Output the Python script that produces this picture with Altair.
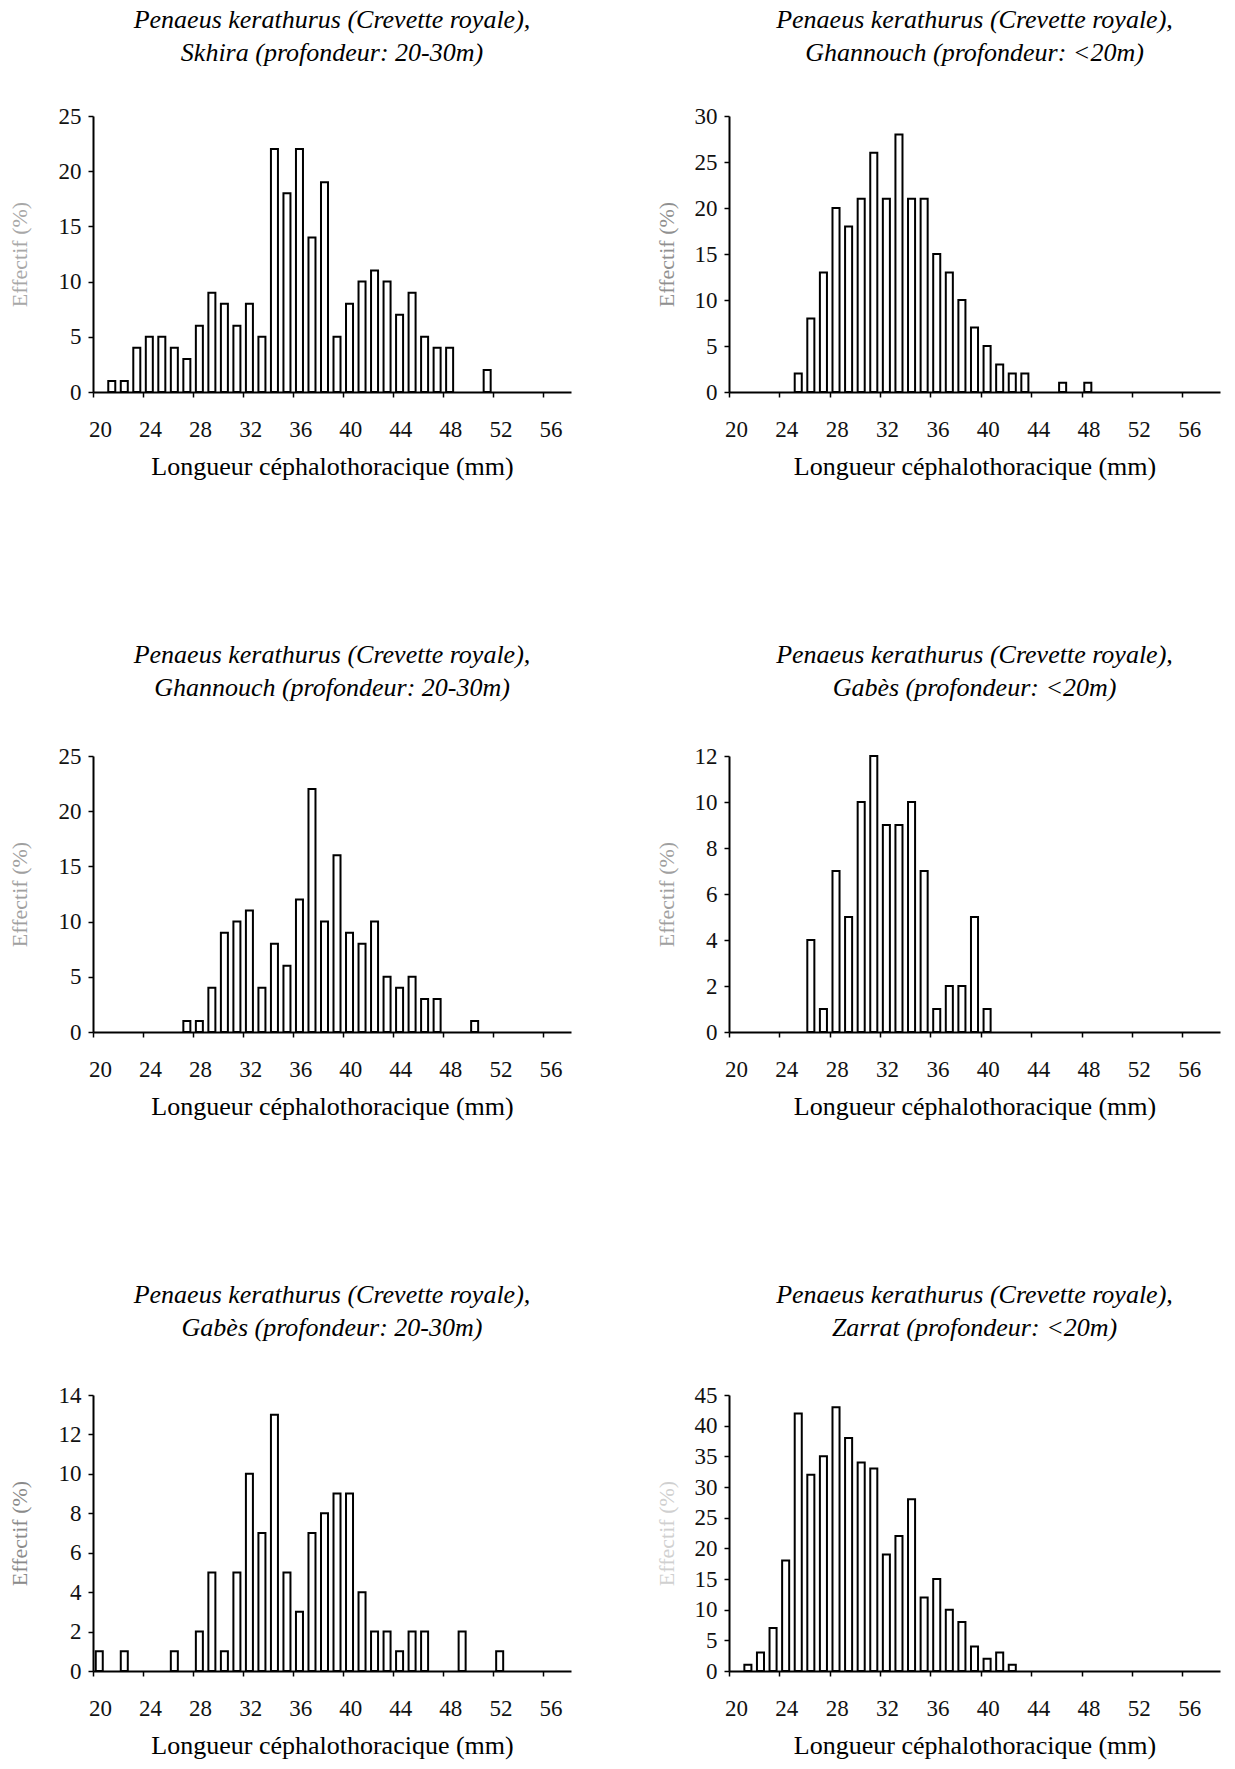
import altair as alt
import pandas as pd

# Length-frequency distributions of Penaeus kerathurus (1 mm classes)
SKHIRA_DEEP_LEN = [21, 22, 23, 24, 25, 26, 27, 28, 29, 30, 31, 32, 33, 34, 35,
                   36, 37, 38, 39, 40, 41, 42, 43, 44, 45, 46, 47, 48, 51]
SKHIRA_DEEP_PCT = [1, 1, 4, 5, 5, 4, 3, 6, 9, 8, 6, 8, 5, 22, 18,
                   22, 14, 19, 5, 8, 10, 11, 10, 7, 9, 5, 4, 4, 2]

GHANNOUCH_SHALLOW_LEN = [25, 26, 27, 28, 29, 30, 31, 32, 33, 34, 35, 36, 37,
                         38, 39, 40, 41, 42, 43, 46, 48]
GHANNOUCH_SHALLOW_PCT = [2, 8, 13, 20, 18, 21, 26, 21, 28, 21, 21, 15, 13,
                         10, 7, 5, 3, 2, 2, 1, 1]

GHANNOUCH_DEEP_LEN = [27, 28, 29, 30, 31, 32, 33, 34, 35, 36, 37, 38, 39, 40,
                      41, 42, 43, 44, 45, 46, 47, 50]
GHANNOUCH_DEEP_PCT = [1, 1, 4, 9, 10, 11, 4, 8, 6, 12, 22, 10, 16, 9,
                      8, 10, 5, 4, 5, 3, 3, 1]

GABES_SHALLOW_LEN = [26, 27, 28, 29, 30, 31, 32, 33, 34, 35, 36, 37, 38, 39, 40]
GABES_SHALLOW_PCT = [4, 1, 7, 5, 10, 12, 9, 9, 10, 7, 1, 2, 2, 5, 1]

GABES_DEEP_LEN = [20, 22, 26, 28, 29, 30, 31, 32, 33, 34, 35, 36, 37, 38, 39,
                  40, 41, 42, 43, 44, 45, 46, 49, 52]
GABES_DEEP_PCT = [1, 1, 1, 2, 5, 1, 5, 10, 7, 13, 5, 3, 7, 8, 9,
                  9, 4, 2, 2, 1, 2, 2, 2, 1]

ZARRAT_SHALLOW_LEN = [21, 22, 23, 24, 25, 26, 27, 28, 29, 30, 31, 32, 33, 34,
                      35, 36, 37, 38, 39, 40, 41, 42]
ZARRAT_SHALLOW_PCT = [1, 3, 7, 18, 42, 32, 35, 43, 38, 34, 33, 19, 22, 28,
                      12, 15, 10, 8, 4, 2, 3, 1]

X_TICKS = [20, 24, 28, 32, 36, 40, 44, 48, 52, 56]
SPECIES = "Penaeus kerathurus (Crevette royale),"

SERIF = "Liberation Serif"


def panel(site, lengths, pcts, ymax, ystep, title_color, width, xmax,
          title_pad, title_offset):
    df = pd.DataFrame({"longueur": lengths, "effectif": pcts})
    return (
        alt.Chart(df)
        .transform_calculate(x0="datum.longueur + 0.22", x1="datum.longueur + 0.78")
        .mark_bar(fill="white", stroke="black", strokeWidth=2)
        .encode(
            x=alt.X(
                "x0:Q",
                scale=alt.Scale(domain=[20, xmax], nice=False, zero=False),
                axis=alt.Axis(
                    values=X_TICKS,
                    format="d",
                    title="Longueur céphalothoracique (mm)",
                    titleFontSize=26,
                    titleFontWeight="normal",
                    titleColor="black",
                    titlePadding=12,
                    labelOffset=7,
                    labelPadding=21,
                    labelFlush=False,
                ),
            ),
            x2="x1:Q",
            y=alt.Y(
                "effectif:Q",
                scale=alt.Scale(domain=[0, ymax], nice=False),
                axis=alt.Axis(
                    values=list(range(0, ymax + 1, ystep)),
                    title="Effectif (%)",
                    titleFontSize=22,
                    titleFontWeight="normal",
                    titleColor=title_color,
                    titlePadding=title_pad,
                    labelPadding=7,
                ),
            ),
            y2=alt.datum(0),
        )
        .properties(
            width=width,
            height=276,
            title=alt.TitleParams(
                text=[SPECIES, site],
                font=SERIF,
                fontStyle="italic",
                fontWeight="normal",
                fontSize=26,
                lineHeight=33,
                anchor="middle",
                offset=title_offset,
                color="black",
            ),
        )
    )


LW, LX = 478, 58.2
RW, RX = 491, 59.0

row1 = alt.hconcat(
    panel("Skhira (profondeur: 20-30m)", SKHIRA_DEEP_LEN, SKHIRA_DEEP_PCT,
          25, 5, "#a8a8a8", LW, LX, 27, 39),
    panel("Ghannouch (profondeur: <20m)", GHANNOUCH_SHALLOW_LEN, GHANNOUCH_SHALLOW_PCT,
          30, 5, "#909090", RW, RX, 16, 39),
    spacing=84,
)
row2 = alt.hconcat(
    panel("Ghannouch (profondeur: 20-30m)", GHANNOUCH_DEEP_LEN, GHANNOUCH_DEEP_PCT,
          25, 5, "#a0a0a0", LW, LX, 27, 44),
    panel("Gabès (profondeur: <20m)", GABES_SHALLOW_LEN, GABES_SHALLOW_PCT,
          12, 2, "#a0a0a0", RW, RX, 16, 44),
    spacing=84,
)
row3 = alt.hconcat(
    panel("Gabès (profondeur: 20-30m)", GABES_DEEP_LEN, GABES_DEEP_PCT,
          14, 2, "#8a8a8a", LW, LX, 27, 43),
    panel("Zarrat (profondeur: <20m)", ZARRAT_SHALLOW_LEN, ZARRAT_SHALLOW_PCT,
          45, 5, "#d0d0d0", RW, RX, 16, 43),
    spacing=84,
)

chart = (
    alt.vconcat(row1, row2, row3, spacing=163)
    .properties(padding={"left": 8, "top": 7, "right": 5, "bottom": 5}, background="white")
    .configure_view(stroke=None)
    .configure_axis(
        grid=False,
        domainColor="black",
        domainWidth=2,
        tickColor="black",
        tickWidth=1.5,
        tickSize=5,
        labelFont=SERIF,
        labelFontSize=23,
        labelColor="#111111",
        titleFont=SERIF,
    )
)

chart.save("out.html", embed_options={"renderer": "svg", "actions": False})
